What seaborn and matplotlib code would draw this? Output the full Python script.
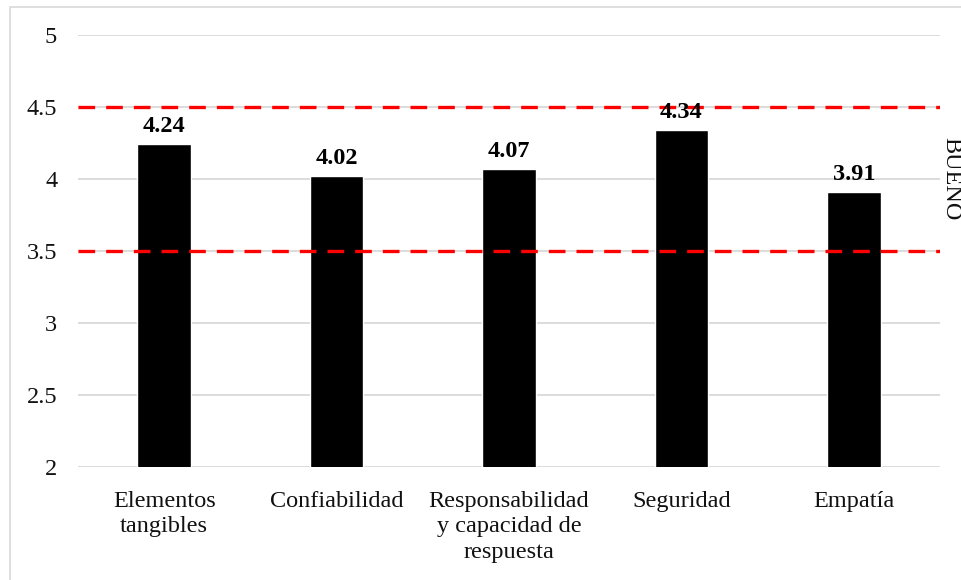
import matplotlib
matplotlib.use("Agg")
import matplotlib.pyplot as plt
from matplotlib.patches import Rectangle
import seaborn as sns
import pandas as pd

categorias = ["Elementos\ntangibles", "Confiabilidad",
              "Responsabilidad\ny capacidad de\nrespuesta", "Seguridad", "Empatía"]
valores = [4.24, 4.02, 4.07, 4.34, 3.91]
limites_bueno = [3.5, 4.5]
etiqueta_rango = "BUENO"
yticks = [2, 2.5, 3, 3.5, 4, 4.5, 5]
ytick_labels = ["2", "2.5", "3", "3.5", "4", "4.5", "5"]

sns.set_theme(style="white")
plt.rcParams["font.family"] = ["Liberation Serif", "DejaVu Serif"]

FS = 17.5
df = pd.DataFrame({"dimension": categorias, "media": valores})

fig = plt.figure(figsize=(9.61, 5.80), dpi=100)
W, H = 961, 580
ax = fig.add_axes([78 / W, 1 - 467 / H, (940 - 78) / W, (467 - 35) / H])

# light frame around the chart area
fig.patches.append(Rectangle((9.5 / W, -0.1), 1.2, 1 - 6.5 / H + 0.1,
                             transform=fig.transFigure, fill=False,
                             edgecolor="#d9d9d9", linewidth=1.2))

for y in yticks:
    ax.axhline(y, color="#d9d9d9", linewidth=1.3, zorder=0)

sns.barplot(data=df, x="dimension", y="media", color="black",
            width=0.31, ax=ax, zorder=2, saturation=1)

for lim in limites_bueno:
    ax.axhline(lim, color="#ff0000", linewidth=2.4, linestyle=(0, (5, 3.3)), zorder=3)

for i, v in enumerate(valores):
    ax.text(i, v + 0.05, f"{v:.2f}", ha="center", va="bottom",
            fontsize=FS, fontweight="bold", color="black")

ax.set_ylim(2, 5)
ax.set_xlim(-0.5, len(categorias) - 0.5)
ax.set_yticks(yticks)
ax.set_yticklabels(ytick_labels)
ax.set_xticks(range(len(categorias)), labels=categorias, linespacing=1.3)
ax.set_xlabel("")
ax.set_ylabel("")
ax.tick_params(axis="y", length=0, pad=15, labelsize=FS, colors="#111111")
ax.tick_params(axis="x", length=0, pad=17, labelsize=FS, colors="#111111")
for s in ax.spines.values():
    s.set_visible(False)

x_rango = (951 - 78) / (940 - 78)
ax.text(x_rango, sum(limites_bueno) / 2, etiqueta_rango, rotation=-90,
        transform=ax.get_yaxis_transform(), ha="center", va="center",
        fontsize=FS, color="#111111")

fig.savefig("out.png", dpi=100)
